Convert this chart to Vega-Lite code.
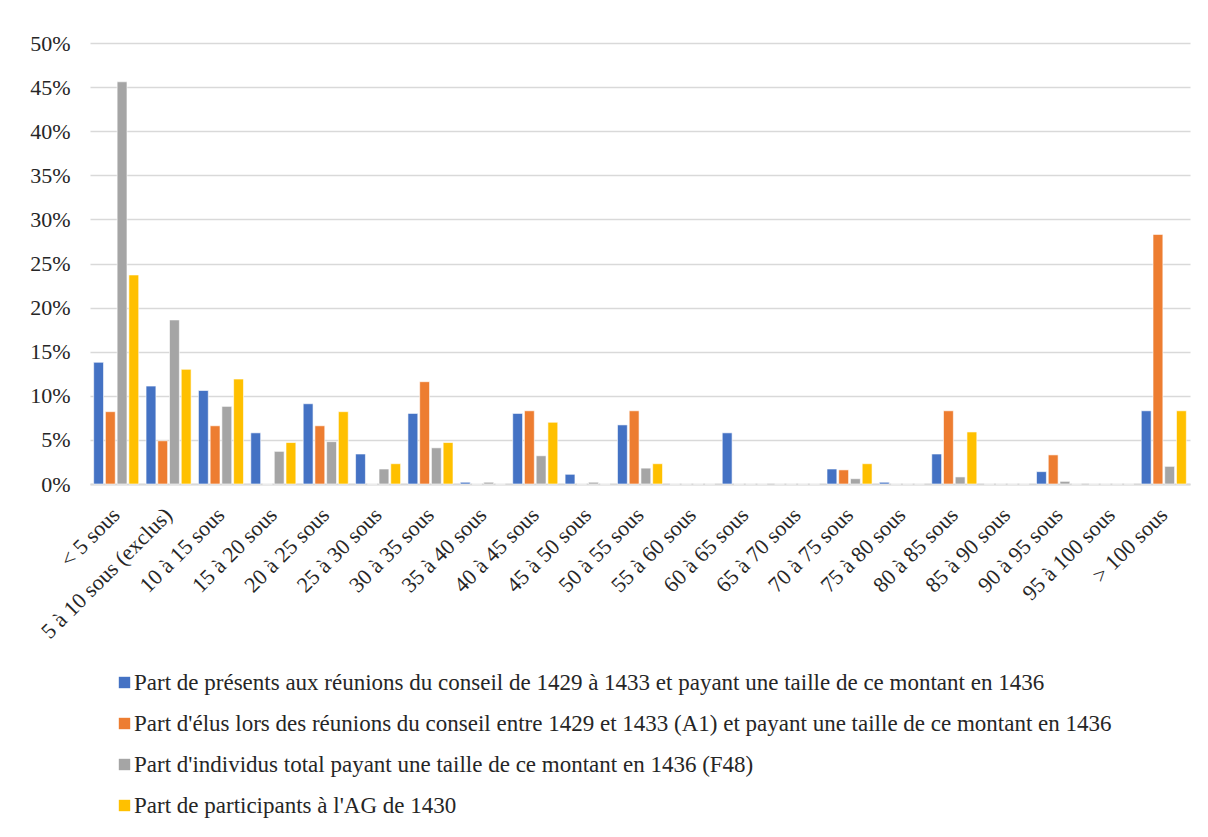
{
  "$schema": "https://vega.github.io/schema/vega-lite/v6.json",
  "autosize": {"type": "none"},
  "width": 1100,
  "height": 441,
  "padding": {"left": 90, "top": 43, "right": 18, "bottom": 353},
  "background": "white",
  "config": {
    "view": {"stroke": null},
    "font": "Liberation Serif"
  },
  "data": {
    "values": [
      {"cat": "< 5 sous", "s": "A", "v": 0.138}, {"cat": "< 5 sous", "s": "B", "v": 0.082}, {"cat": "< 5 sous", "s": "C", "v": 0.456}, {"cat": "< 5 sous", "s": "D", "v": 0.237},
      {"cat": "5 à 10 sous (exclus)", "s": "A", "v": 0.111}, {"cat": "5 à 10 sous (exclus)", "s": "B", "v": 0.049}, {"cat": "5 à 10 sous (exclus)", "s": "C", "v": 0.186}, {"cat": "5 à 10 sous (exclus)", "s": "D", "v": 0.130},
      {"cat": "10 à 15 sous", "s": "A", "v": 0.106}, {"cat": "10 à 15 sous", "s": "B", "v": 0.066}, {"cat": "10 à 15 sous", "s": "C", "v": 0.088}, {"cat": "10 à 15 sous", "s": "D", "v": 0.119},
      {"cat": "15 à 20 sous", "s": "A", "v": 0.058}, {"cat": "15 à 20 sous", "s": "B", "v": 0}, {"cat": "15 à 20 sous", "s": "C", "v": 0.037}, {"cat": "15 à 20 sous", "s": "D", "v": 0.047},
      {"cat": "20 à 25 sous", "s": "A", "v": 0.091}, {"cat": "20 à 25 sous", "s": "B", "v": 0.066}, {"cat": "20 à 25 sous", "s": "C", "v": 0.048}, {"cat": "20 à 25 sous", "s": "D", "v": 0.082},
      {"cat": "25 à 30 sous", "s": "A", "v": 0.034}, {"cat": "25 à 30 sous", "s": "B", "v": 0}, {"cat": "25 à 30 sous", "s": "C", "v": 0.017}, {"cat": "25 à 30 sous", "s": "D", "v": 0.023},
      {"cat": "30 à 35 sous", "s": "A", "v": 0.080}, {"cat": "30 à 35 sous", "s": "B", "v": 0.116}, {"cat": "30 à 35 sous", "s": "C", "v": 0.041}, {"cat": "30 à 35 sous", "s": "D", "v": 0.047},
      {"cat": "35 à 40 sous", "s": "A", "v": 0.002}, {"cat": "35 à 40 sous", "s": "B", "v": 0}, {"cat": "35 à 40 sous", "s": "C", "v": 0.002}, {"cat": "35 à 40 sous", "s": "D", "v": 0},
      {"cat": "40 à 45 sous", "s": "A", "v": 0.080}, {"cat": "40 à 45 sous", "s": "B", "v": 0.083}, {"cat": "40 à 45 sous", "s": "C", "v": 0.032}, {"cat": "40 à 45 sous", "s": "D", "v": 0.070},
      {"cat": "45 à 50 sous", "s": "A", "v": 0.011}, {"cat": "45 à 50 sous", "s": "B", "v": 0}, {"cat": "45 à 50 sous", "s": "C", "v": 0.002}, {"cat": "45 à 50 sous", "s": "D", "v": 0},
      {"cat": "50 à 55 sous", "s": "A", "v": 0.067}, {"cat": "50 à 55 sous", "s": "B", "v": 0.083}, {"cat": "50 à 55 sous", "s": "C", "v": 0.018}, {"cat": "50 à 55 sous", "s": "D", "v": 0.023},
      {"cat": "55 à 60 sous", "s": "A", "v": 0}, {"cat": "55 à 60 sous", "s": "B", "v": 0}, {"cat": "55 à 60 sous", "s": "C", "v": 0}, {"cat": "55 à 60 sous", "s": "D", "v": 0},
      {"cat": "60 à 65 sous", "s": "A", "v": 0.058}, {"cat": "60 à 65 sous", "s": "B", "v": 0}, {"cat": "60 à 65 sous", "s": "C", "v": 0}, {"cat": "60 à 65 sous", "s": "D", "v": 0},
      {"cat": "65 à 70 sous", "s": "A", "v": 0}, {"cat": "65 à 70 sous", "s": "B", "v": 0}, {"cat": "65 à 70 sous", "s": "C", "v": 0}, {"cat": "65 à 70 sous", "s": "D", "v": 0},
      {"cat": "70 à 75 sous", "s": "A", "v": 0.017}, {"cat": "70 à 75 sous", "s": "B", "v": 0.016}, {"cat": "70 à 75 sous", "s": "C", "v": 0.006}, {"cat": "70 à 75 sous", "s": "D", "v": 0.023},
      {"cat": "75 à 80 sous", "s": "A", "v": 0.002}, {"cat": "75 à 80 sous", "s": "B", "v": 0}, {"cat": "75 à 80 sous", "s": "C", "v": 0}, {"cat": "75 à 80 sous", "s": "D", "v": 0},
      {"cat": "80 à 85 sous", "s": "A", "v": 0.034}, {"cat": "80 à 85 sous", "s": "B", "v": 0.083}, {"cat": "80 à 85 sous", "s": "C", "v": 0.008}, {"cat": "80 à 85 sous", "s": "D", "v": 0.059},
      {"cat": "85 à 90 sous", "s": "A", "v": 0}, {"cat": "85 à 90 sous", "s": "B", "v": 0}, {"cat": "85 à 90 sous", "s": "C", "v": 0}, {"cat": "85 à 90 sous", "s": "D", "v": 0},
      {"cat": "90 à 95 sous", "s": "A", "v": 0.014}, {"cat": "90 à 95 sous", "s": "B", "v": 0.033}, {"cat": "90 à 95 sous", "s": "C", "v": 0.003}, {"cat": "90 à 95 sous", "s": "D", "v": 0},
      {"cat": "95 à 100 sous", "s": "A", "v": 0}, {"cat": "95 à 100 sous", "s": "B", "v": 0}, {"cat": "95 à 100 sous", "s": "C", "v": 0}, {"cat": "95 à 100 sous", "s": "D", "v": 0},
      {"cat": "> 100 sous", "s": "A", "v": 0.083}, {"cat": "> 100 sous", "s": "B", "v": 0.283}, {"cat": "> 100 sous", "s": "C", "v": 0.020}, {"cat": "> 100 sous", "s": "D", "v": 0.083}
    ]
  },
  "mark": {"type": "bar", "stroke": "white", "strokeWidth": 0.6},
  "encoding": {
    "x": {
      "field": "cat",
      "type": "nominal",
      "sort": null,
      "scale": {"paddingInner": 0.14, "paddingOuter": 0.07},
      "axis": {
        "title": null,
        "labelAngle": -45,
        "labelAlign": "right",
        "labelBaseline": "middle",
        "labelFontSize": 22,
        "labelColor": "#262626",
        "labelPadding": 27,
        "labelOffset": 0,
        "ticks": false,
        "domainColor": "#d9d9d9",
        "domainWidth": 2,
        "labelLimit": 400
      }
    },
    "xOffset": {
      "field": "s",
      "type": "nominal",
      "scale": {"paddingInner": 0.16}
    },
    "y": {
      "field": "v",
      "type": "quantitative",
      "scale": {"domain": [0, 0.5], "nice": false},
      "axis": {
        "title": null,
        "format": ".0%",
        "values": [0, 0.05, 0.1, 0.15, 0.2, 0.25, 0.3, 0.35, 0.4, 0.45, 0.5],
        "domain": false,
        "ticks": false,
        "gridColor": "#d9d9d9",
        "gridWidth": 1.5,
        "labelFontSize": 22,
        "labelColor": "#262626",
        "labelPadding": 20
      }
    },
    "color": {
      "field": "s",
      "type": "nominal",
      "scale": {"domain": ["A", "B", "C", "D"], "range": ["#4472C4", "#ED7D31", "#A5A5A5", "#FFC000"]},
      "legend": {
        "title": null,
        "orient": "none",
        "legendX": 23,
        "legendY": 628,
        "direction": "vertical",
        "symbolType": "square",
        "symbolSize": 130,
        "symbolStrokeWidth": 0,
        "labelFontSize": 23,
        "labelColor": "#262626",
        "labelLimit": 1100,
        "rowPadding": 17,
        "labelOffset": -2,
        "labelExpr": "datum.value == 'A' ? 'Part de présents aux réunions du conseil de 1429 à 1433 et payant une taille de ce montant en 1436' : datum.value == 'B' ? 'Part d\\'élus lors des réunions du conseil entre 1429 et 1433 (A1) et payant une taille de ce montant en 1436' : datum.value == 'C' ? 'Part d\\'individus total payant une taille de ce montant en 1436 (F48)' : 'Part de participants à l\\'AG de 1430'"
      }
    }
  }
}
